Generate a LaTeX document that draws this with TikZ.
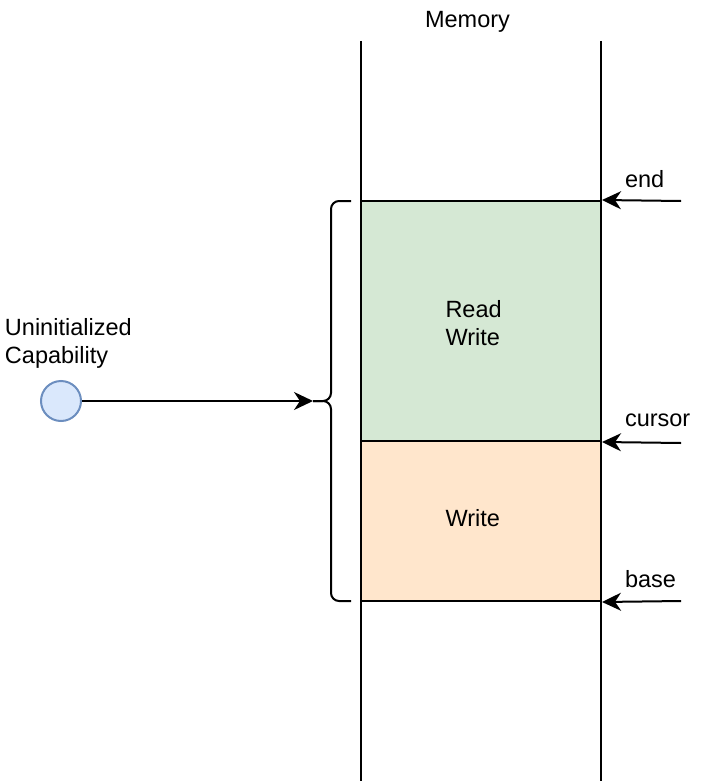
\documentclass[tikz,border=0pt]{standalone}
\usepackage{fontspec}
\setmainfont{Liberation Sans}
\usetikzlibrary{arrows.meta}
\definecolor{gfill}{HTML}{D5E8D4}
\definecolor{ofill}{HTML}{FFE6CC}
\definecolor{bfill}{HTML}{DAE8FC}
\definecolor{bdraw}{HTML}{6C8EBF}
\begin{document}
\begin{tikzpicture}[x=1pt,y=-1pt,
  line width=2pt,
  every node/.style={font=\fontsize{23.5}{28}\selectfont, inner sep=0pt},
  lbl/.style={anchor=base west, align=left},
  blk/.style={draw=black, line width=2pt, minimum width=240pt, inner sep=0pt},
  arr/.style={-{Stealth[length=19pt,width=18pt,inset=6pt]}, line width=2pt}]
\useasboundingbox (0,0) rectangle (722,784);
% memory lines
\coordinate (l1t) at (361,41);
\coordinate (l1b) at (361,781);
\coordinate (l2t) at (601,41);
\coordinate (l2b) at (601,781);
\node[anchor=base] (mem) at (467.5,27.3) {Memory};
% blocks
\node[blk, fill=gfill, minimum height=240pt] (rw) at (481,321) {};
\node[blk, fill=ofill, minimum height=160pt] (wr) at (481,521) {};
\draw (l1t) -- (l1b);
\draw (l2t) -- (l2b);
\node[lbl] (rwt) at (444.5,345) {Read\\Write};
\node[lbl] (wt) at (444.5,526.7) {Write};
% pointers
\coordinate (pe) at (681,201);
\coordinate (pc) at (681,443);
\coordinate (pb) at (681,601);
\draw[arr] (pe) -- (rw.north east);
\draw[arr] (pc) -- (rw.south east);
\draw[arr] (pb) -- (wr.south east);
\node[lbl] (te) at (624,187.3) {end};
\node[lbl] (tc) at (624,426.7) {cursor};
\node[lbl] (tb) at (624,587.3) {base};
% brace
\coordinate (bt) at (313,401);
\draw[rounded corners=8pt] (351,201) -- (331,201) -- (331,401) -- (bt);
\draw[rounded corners=8pt] (351,601) -- (331,601) -- (331,401) -- (bt);
% capability
\node[circle, draw=bdraw, fill=bfill, line width=2pt, minimum size=40pt] (cap) at (61,401) {};
\node[lbl] (capt) at (4,363.3) {Uninitialized\\Capability};
\draw[arr] (cap) -- (bt);
\end{tikzpicture}
\end{document}
